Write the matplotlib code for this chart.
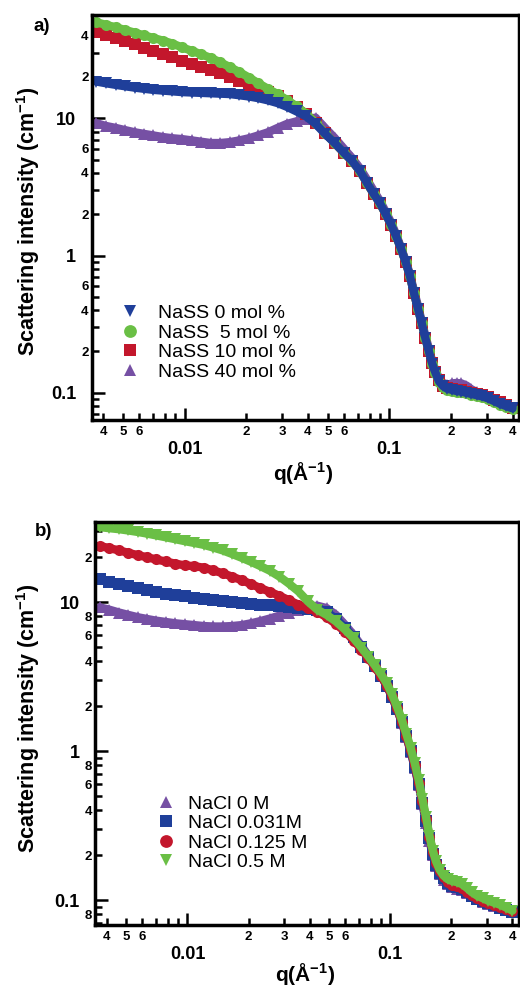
import matplotlib
matplotlib.use('Agg')
import matplotlib.pyplot as plt

plt.rcParams['font.family'] = ['Liberation Sans', 'DejaVu Sans']
plt.rcParams['font.weight'] = 'bold'
plt.rcParams['axes.labelweight'] = 'bold'
plt.rcParams['mathtext.fontset'] = 'custom'
plt.rcParams['mathtext.rm'] = 'Liberation Sans:bold'
plt.rcParams['mathtext.it'] = 'Liberation Sans:bold'
plt.rcParams['mathtext.default'] = 'rm'

# q values (1/A), shared by all curves
q = [0.0037, 0.0041, 0.0046, 0.0051, 0.0057, 0.0063, 0.0070, 0.0078, 0.0087, 0.0097,
     0.0108, 0.0120, 0.0134, 0.0149, 0.0166, 0.0185, 0.0206, 0.0229, 0.0255, 0.0284,
     0.0316, 0.0352, 0.0392, 0.0436, 0.0485, 0.054, 0.060, 0.066, 0.072, 0.078,
     0.084, 0.090, 0.096, 0.102, 0.108, 0.114, 0.120, 0.126, 0.132, 0.138,
     0.144, 0.150, 0.156, 0.162, 0.168, 0.175, 0.183, 0.192, 0.202, 0.213,
     0.225, 0.238, 0.252, 0.268, 0.285, 0.304, 0.325, 0.348, 0.373, 0.400]

# panel a) NaSS content
nass_0 = [18.5, 18.0, 17.5, 17.1, 16.7, 16.4, 16.1, 15.9, 15.7, 15.5,
          15.4, 15.3, 15.2, 15.1, 15.0, 14.7, 14.4, 14.0, 13.5, 12.9,
          12.1, 11.2, 10.3, 9.1, 7.7, 6.6, 5.6, 4.85, 4.1, 3.35,
          2.8, 2.4, 2.0, 1.68, 1.38, 1.12, 0.90, 0.71, 0.53, 0.41,
          0.32, 0.25, 0.20, 0.163, 0.140, 0.121, 0.112, 0.107, 0.105, 0.103,
          0.102, 0.100, 0.098, 0.096, 0.094, 0.091, 0.087, 0.083, 0.080, 0.077]
nass_5 = [50, 48, 46, 44, 42, 40.2, 38.5, 36.8, 35, 32.8,
          31, 29.3, 27.5, 25.6, 23.6, 21.7, 19.8, 18.0, 16.4, 15.0,
          13.6, 12.2, 10.8, 9.3, 7.8, 6.6, 5.6, 4.85, 4.1, 3.35,
          2.8, 2.4, 2.0, 1.68, 1.38, 1.12, 0.90, 0.71, 0.53, 0.41,
          0.32, 0.25, 0.20, 0.163, 0.139, 0.120, 0.110, 0.105, 0.103, 0.102,
          0.101, 0.099, 0.097, 0.095, 0.093, 0.090, 0.086, 0.082, 0.079, 0.076]
nass_10 = [42.5, 40.5, 38.5, 36.5, 34.5, 32.7, 31, 29.4, 27.9, 26.3,
           25, 23.7, 22.5, 21.2, 20.0, 18.7, 17.3, 16.1, 15.5, 14.6,
           13.4, 12.1, 10.8, 9.3, 7.8, 6.6, 5.6, 4.85, 4.1, 3.35,
           2.8, 2.4, 2.0, 1.68, 1.38, 1.12, 0.90, 0.71, 0.53, 0.41,
           0.32, 0.25, 0.20, 0.164, 0.141, 0.123, 0.113, 0.108, 0.106, 0.105,
           0.104, 0.102, 0.100, 0.098, 0.096, 0.093, 0.089, 0.085, 0.081, 0.078]
nass_40 = [9.2, 8.8, 8.5, 8.2, 7.9, 7.7, 7.5, 7.3, 7.15, 7.05,
           6.9, 6.75, 6.6, 6.6, 6.7, 6.9, 7.15, 7.5, 7.9, 8.5,
           9.1, 9.5, 9.8, 10.1, 8.5, 7.2, 6.0, 5.1, 4.3, 3.55,
           2.95, 2.5, 2.08, 1.74, 1.42, 1.14, 0.92, 0.73, 0.55, 0.43,
           0.33, 0.26, 0.21, 0.17, 0.146, 0.128, 0.118, 0.114, 0.117, 0.118,
           0.117, 0.113, 0.106, 0.101, 0.097, 0.093, 0.089, 0.085, 0.081, 0.078]

# panel b) NaCl concentration
nacl_0 = [9.2, 8.9, 8.5, 8.2, 7.9, 7.7, 7.5, 7.35, 7.2, 7.1,
          7.0, 6.9, 6.85, 6.85, 6.9, 7.0, 7.2, 7.45, 7.75, 8.1,
          8.5, 8.85, 9.2, 9.45, 9.1, 8.2, 7.0, 6.0, 5.1, 4.35,
          3.7, 3.2, 2.75, 2.3, 1.9, 1.55, 1.24, 0.99, 0.77, 0.59,
          0.44, 0.33, 0.25, 0.20, 0.17, 0.15, 0.137, 0.128, 0.122, 0.119,
          0.116, 0.111, 0.106, 0.101, 0.097, 0.094, 0.091, 0.089, 0.086, 0.083]
nacl_0031 = [14.2, 13.7, 13.2, 12.8, 12.4, 12.0, 11.7, 11.4, 11.1, 10.9,
             10.7, 10.5, 10.3, 10.1, 9.95, 9.8, 9.7, 9.6, 9.5, 9.35,
             9.2, 9.1, 9.0, 8.9, 8.6, 7.7, 6.7, 5.8, 5.0, 4.3,
             3.7, 3.2, 2.75, 2.32, 1.92, 1.57, 1.26, 1.0, 0.78, 0.6,
             0.45, 0.34, 0.26, 0.205, 0.173, 0.153, 0.14, 0.131, 0.125, 0.122,
             0.118, 0.113, 0.107, 0.102, 0.098, 0.095, 0.092, 0.089, 0.086, 0.083]
nacl_0125 = [23.8, 23.0, 22.2, 21.4, 20.6, 20.0, 19.3, 18.7, 18.1, 17.6,
             17.4, 17.0, 16.3, 15.6, 14.8, 14.0, 13.2, 12.4, 11.7, 11.0,
             10.3, 9.6, 9.1, 8.6, 7.9, 7.1, 6.3, 5.5, 4.8, 4.2,
             3.65, 3.2, 2.75, 2.33, 1.93, 1.57, 1.26, 1.01, 0.8, 0.61,
             0.46, 0.35, 0.265, 0.21, 0.177, 0.156, 0.142, 0.133, 0.127, 0.124,
             0.120, 0.114, 0.108, 0.103, 0.099, 0.096, 0.093, 0.090, 0.087, 0.084]
nacl_05 = [31.8, 31.3, 30.8, 30.2, 29.5, 28.8, 28.0, 27.2, 26.4, 25.6,
           24.9, 24.2, 23.2, 22.2, 21.0, 19.8, 18.6, 17.4, 16.2, 14.8,
           13.3, 11.8, 10.1, 8.9, 8.2, 7.4, 6.5, 5.7, 4.95, 4.3,
           3.75, 3.28, 2.85, 2.4, 1.98, 1.62, 1.30, 1.05, 0.83, 0.64,
           0.48, 0.36, 0.27, 0.215, 0.182, 0.160, 0.146, 0.138, 0.134, 0.132,
           0.128, 0.121, 0.113, 0.107, 0.103, 0.099, 0.096, 0.093, 0.089, 0.085]

BLUE = '#1f3f9a'
GREEN = '#6abf45'
RED = '#c3172c'
PURPLE = '#7650a4'

xminor = [0.004, 0.005, 0.006, 0.007, 0.008, 0.009,
          0.02, 0.03, 0.04, 0.05, 0.06, 0.07, 0.08, 0.09,
          0.2, 0.3, 0.4]
xminor_lab = ['4', '5', '6', '', '', '',
              '2', '3', '4', '5', '6', '', '', '',
              '2', '3', '4']


def style_axes(ax, ylim, ymaj, ymaj_lab, ymin, ymin_lab, lab_x, lab_y, xlab_y):
    ax.set_xscale('log')
    ax.set_yscale('log')
    ax.set_xticks([0.01, 0.1])
    ax.set_xticklabels(['0.01', '0.1'])
    ax.set_xticks(xminor, minor=True)
    ax.set_xticklabels(xminor_lab, minor=True)
    ax.set_yticks(ymaj)
    ax.set_yticklabels(ymaj_lab)
    ax.set_yticks(ymin, minor=True)
    ax.set_yticklabels(ymin_lab, minor=True)
    ax.set_xlim(0.0035, 0.43)
    ax.set_ylim(*ylim)
    ax.tick_params(which='both', direction='in', width=1.8, colors='black')
    ax.tick_params(which='major', length=9, labelsize=13)
    ax.tick_params(which='minor', length=5, labelsize=9.5)
    ax.tick_params(axis='x', which='major', pad=15)
    ax.tick_params(axis='x', which='minor', pad=4)
    ax.tick_params(axis='y', which='major', pad=11)
    ax.tick_params(axis='y', which='minor', pad=2)
    for s in ax.spines.values():
        s.set_linewidth(2.5)
    ax.set_ylabel('Scattering intensity (cm$^{-1}$)', fontsize=15.5, fontweight='bold')
    ax.yaxis.set_label_coords(lab_x, lab_y)
    ax.set_xlabel('q(Å$^{-1}$)', fontsize=15, fontweight='bold')
    ax.xaxis.set_label_coords(0.495, xlab_y)


def draw(ax, y, color, marker, label):
    ax.plot(q, y, '-', color=color, lw=6, solid_capstyle='round')
    ax.plot(q, y, ls='none', marker=marker, ms=8, mew=0, color=color, label=label)


fig = plt.figure(figsize=(5.2, 9.94), dpi=100)

# ---- a) ----
ax1 = fig.add_axes([0.176, 0.5775, 0.822, 0.4074])
draw(ax1, nass_40, PURPLE, '^', 'NaSS 40 mol %')
draw(ax1, nass_10, RED, 's', 'NaSS 10 mol %')
draw(ax1, nass_5, GREEN, 'o', 'NaSS  5 mol %')
draw(ax1, nass_0, BLUE, 'v', 'NaSS 0 mol %')
style_axes(ax1, (0.0634, 56.5),
           [0.1, 1, 10], ['0.1', '1', '10'],
           [0.07, 0.08, 0.09, 0.2, 0.3, 0.4, 0.5, 0.6, 0.7, 0.8, 0.9,
            2, 3, 4, 5, 6, 7, 8, 9, 20, 30, 40, 50],
           ['', '', '', '2', '', '4', '', '6', '', '', '',
            '2', '', '4', '', '6', '', '', '', '2', '', '4', ''],
           -0.116, 0.49, -0.10)
h, l = ax1.get_legend_handles_labels()
ax1.legend(h[::-1], l[::-1], loc='center left', bbox_to_anchor=(0.068, 0.191),
           frameon=False, prop={'weight': 'normal', 'size': 14},
           handlelength=1.0, handletextpad=0.94, labelspacing=0.1,
           borderpad=0, borderaxespad=0, markerscale=1.15)
fig.text(0.065, 0.973, 'a)', fontsize=13.5, ha='left', va='center')

# ---- b) ----
ax2 = fig.add_axes([0.1827, 0.0694, 0.815, 0.4054])
draw(ax2, nacl_0, PURPLE, '^', 'NaCl 0 M')
draw(ax2, nacl_0031, BLUE, 's', 'NaCl 0.031M')
draw(ax2, nacl_0125, RED, 'o', 'NaCl 0.125 M')
draw(ax2, nacl_05, GREEN, 'v', 'NaCl 0.5 M')
style_axes(ax2, (0.068, 34.4),
           [0.1, 1, 10], ['0.1', '1', '10'],
           [0.07, 0.08, 0.09, 0.2, 0.3, 0.4, 0.5, 0.6, 0.7, 0.8, 0.9,
            2, 3, 4, 5, 6, 7, 8, 9, 20, 30],
           ['', '8', '', '2', '', '4', '', '6', '', '8', '',
            '2', '', '4', '', '6', '', '8', '', '2', ''],
           -0.125, 0.514, -0.089)
ax2.legend(loc='center left', bbox_to_anchor=(0.1446, 0.228),
           frameon=False, prop={'weight': 'normal', 'size': 14},
           handlelength=1.0, handletextpad=0.63, labelspacing=0.1,
           borderpad=0, borderaxespad=0, markerscale=1.15)
fig.text(0.067, 0.465, 'b)', fontsize=13.5, ha='left', va='center')

fig.savefig('out.png', dpi=100)
